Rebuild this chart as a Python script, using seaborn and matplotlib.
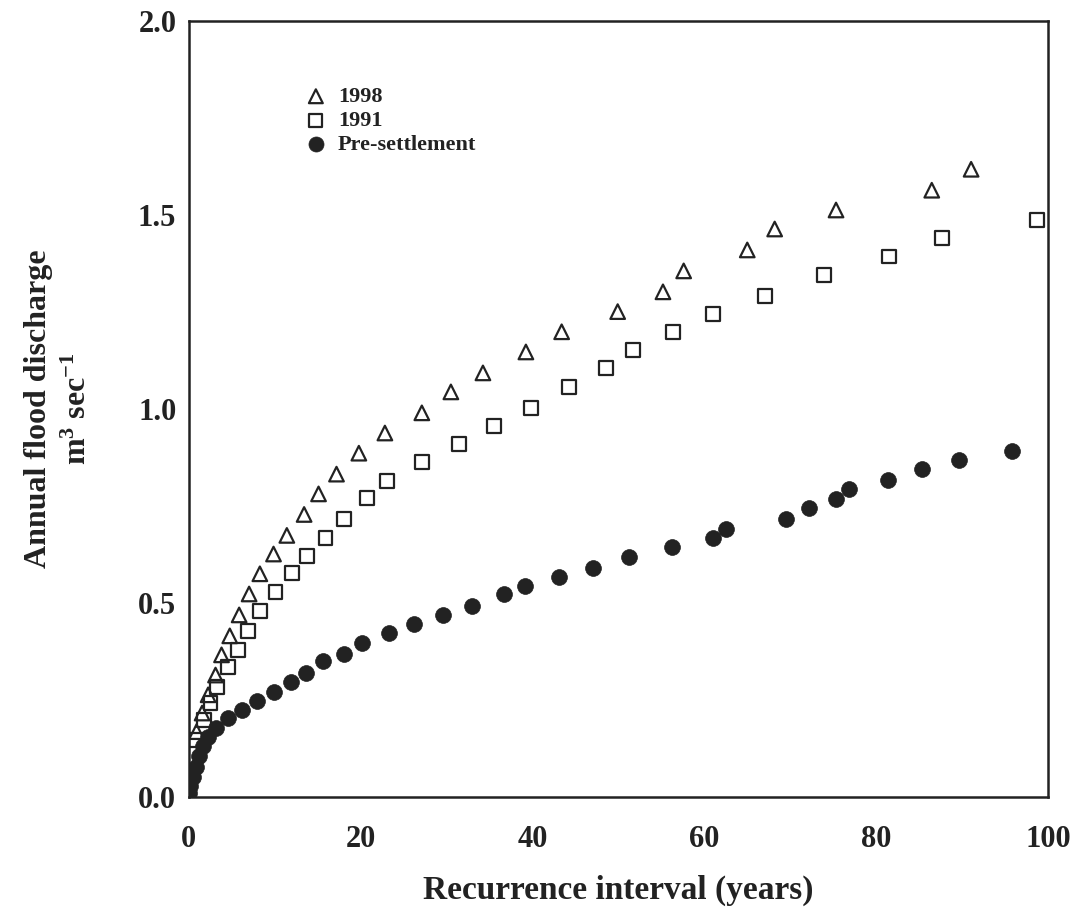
import numpy as np
import pandas as pd
import matplotlib
matplotlib.use('Agg')
import matplotlib.pyplot as plt
import seaborn as sns
from matplotlib.ticker import MultipleLocator, FormatStrFormatter

# 1998 series (triangles)
x_1998 = [0.90, 1.55, 2.25, 3.11, 3.81, 4.77, 5.86, 7.02, 8.27, 9.86, 11.41, 13.42,
          15.10, 17.19, 19.79, 22.82, 27.12, 30.50, 34.23, 39.23, 43.39, 49.91,
          55.18, 57.59, 64.99, 68.18, 75.32, 86.46, 91.04]
y_1998 = [0.168, 0.216, 0.263, 0.314, 0.366, 0.415, 0.469, 0.523, 0.575, 0.626, 0.674,
          0.728, 0.781, 0.832, 0.886, 0.938, 0.990, 1.044, 1.093, 1.147, 1.199, 1.251,
          1.302, 1.356, 1.410, 1.464, 1.513, 1.564, 1.618]

# 1991 series (squares)
x_1991 = [0.81, 1.75, 2.53, 3.29, 4.58, 5.74, 6.90, 8.27, 10.09, 11.96, 13.71, 15.91,
          18.02, 20.72, 23.09, 27.09, 31.43, 35.51, 39.81, 44.20, 48.54, 51.69,
          56.31, 61.04, 67.02, 73.92, 81.52, 87.62, 98.75]
y_1991 = [0.147, 0.198, 0.241, 0.284, 0.334, 0.379, 0.428, 0.479, 0.528, 0.576, 0.621,
          0.667, 0.716, 0.770, 0.815, 0.864, 0.910, 0.956, 1.003, 1.057, 1.106, 1.152,
          1.198, 1.245, 1.291, 1.345, 1.393, 1.441, 1.487]

# Pre-settlement series (filled circles)
x_pre = [0.05, 0.12, 0.50, 0.81, 1.20, 1.66, 2.25, 3.14, 4.51, 6.25, 7.97, 9.90, 11.91,
         13.62, 15.63, 18.02, 20.17, 23.28, 26.23, 29.63, 33.00, 36.65, 39.17, 43.13,
         47.07, 51.19, 56.19, 60.97, 62.55, 69.50, 72.21, 75.32, 76.87, 81.41, 85.33,
         89.67, 95.84]
y_pre = [0.010, 0.027, 0.052, 0.078, 0.104, 0.130, 0.155, 0.178, 0.204, 0.224, 0.246,
         0.270, 0.297, 0.320, 0.351, 0.369, 0.396, 0.422, 0.446, 0.469, 0.492, 0.522,
         0.544, 0.568, 0.591, 0.619, 0.644, 0.667, 0.691, 0.716, 0.745, 0.769, 0.793,
         0.816, 0.845, 0.869, 0.892]

x_ticks = [0, 20, 40, 60, 80, 100]
y_ticks = [0.0, 0.5, 1.0, 1.5, 2.0]

sns.set_style('white')
plt.rcParams['font.family'] = ['Liberation Serif', 'DejaVu Serif']
plt.rcParams['font.weight'] = 'bold'
plt.rcParams['mathtext.fontset'] = 'custom'
plt.rcParams['mathtext.rm'] = 'Liberation Serif:bold'
plt.rcParams['mathtext.default'] = 'rm'

ink = '#222222'

fig = plt.figure(figsize=(10.85, 9.18), dpi=100)
ax = fig.add_axes([0.174, 0.132, 0.792, 0.845])

sns.scatterplot(x=x_1998, y=y_1998, ax=ax, marker='^', s=110, facecolors='none',
                edgecolor=ink, linewidth=1.6, label='1998', zorder=3)
sns.scatterplot(x=x_1991, y=y_1991, ax=ax, marker='s', s=100, facecolors='none',
                edgecolor=ink, linewidth=1.6, label='1991', zorder=3)
sns.scatterplot(x=x_pre, y=y_pre, ax=ax, marker='o', s=130, color=ink,
                edgecolor=ink, linewidth=0.5, label='Pre-settlement', zorder=4)

ax.set_xlim(0, 100)
ax.set_ylim(0, 2.0)
ax.set_xticks(x_ticks)
ax.set_yticks(y_ticks)
ax.xaxis.set_minor_locator(MultipleLocator(10))
ax.yaxis.set_minor_locator(MultipleLocator(0.25))
ax.yaxis.set_major_formatter(FormatStrFormatter('%.1f'))

for sp in ax.spines.values():
    sp.set_visible(True)
    sp.set_color(ink)
    sp.set_linewidth(1.8)

ax.tick_params(axis='both', which='major', direction='out', length=8, width=1.5,
               color=ink, labelsize=22, labelcolor=ink)
ax.tick_params(axis='both', which='minor', direction='out', length=5, width=1.2, color=ink)
ax.tick_params(axis='y', which='major', pad=1)
ax.tick_params(axis='x', which='major', pad=12)
for lab in ax.get_xticklabels() + ax.get_yticklabels():
    lab.set_fontweight('bold')

ax.set_xlabel('Recurrence interval (years)', fontsize=24, fontweight='bold', color=ink)
ax.xaxis.set_label_coords(0.5, -0.1)
ax.set_ylabel('Annual flood discharge\nm$^{3}$ sec$^{-1}$', fontsize=23,
              fontweight='bold', color=ink, linespacing=1.45)
ax.yaxis.set_label_coords(-0.112, 0.5)

leg = ax.legend(loc='upper left', bbox_to_anchor=(0.122, 0.93), frameon=False,
                prop={'family': 'Liberation Serif', 'weight': 'bold', 'size': 16},
                handletextpad=0.5, labelspacing=0.15, borderpad=0, handlelength=1.0,
                markerscale=0.95)
for t in leg.get_texts():
    t.set_color(ink)

fig.savefig('out.png', dpi=100)
